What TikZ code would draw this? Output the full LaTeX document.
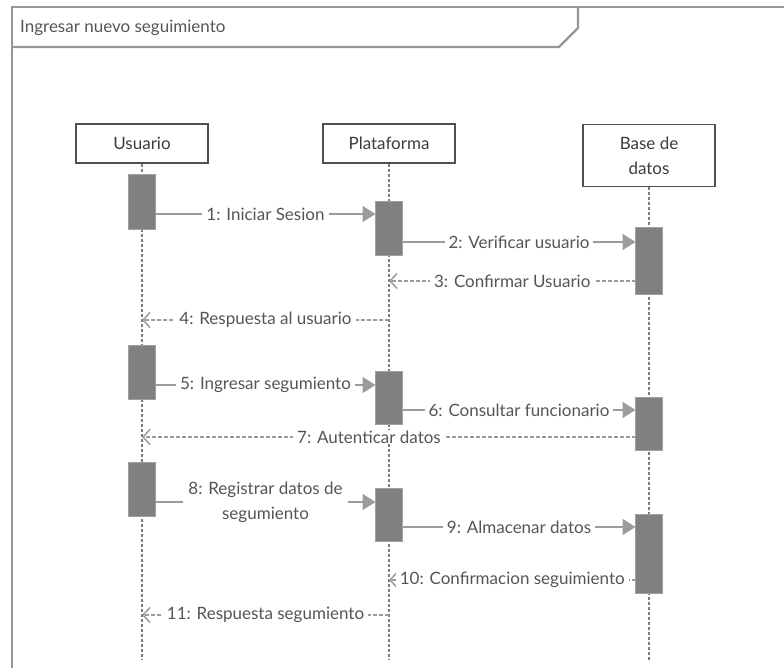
\documentclass[tikz,border=0pt]{standalone}
\usepackage{fontspec}
\setmainfont{Lato}
\usetikzlibrary{arrows.meta}
\definecolor{framegray}{RGB}{150,150,150}
\definecolor{linegray}{RGB}{155,155,155}
\definecolor{lifegray}{RGB}{125,125,125}
\definecolor{barfill}{RGB}{128,128,128}
\definecolor{baredge}{RGB}{160,160,160}
\definecolor{textgray}{RGB}{85,85,85}
\definecolor{headtext}{RGB}{60,60,60}
\definecolor{headedge}{RGB}{80,80,80}
\tikzset{
  frameline/.style={draw=framegray, line width=2.2pt},
  headbox/.style={draw=headedge, line width=1.6pt, fill=white, minimum width=132pt, inner sep=0pt, text=headtext, font=\fontsize{17}{25}\selectfont, align=center},
  lifeline/.style={draw=lifegray, line width=2.2pt, dash pattern=on 3pt off 2pt},
  actbar/.style={draw=baredge, line width=1pt, fill=barfill, minimum width=27pt, inner sep=0pt, outer sep=0pt},
  syncmsg/.style={draw=linegray, line width=1.8pt, -{Triangle[length=13pt,width=16pt]}},
  retmsg/.style={draw=linegray, line width=1.5pt, dash pattern=on 4pt off 2pt, -{Straight Barb[length=7pt,width=15pt,line width=1.5pt]}},
  lbl/.style={fill=white, inner xsep=4pt, inner ysep=1pt, text=textgray, font=\fontsize{17}{19}\selectfont}
}
\begin{document}
\begin{tikzpicture}[x=1pt,y=-1pt]
\useasboundingbox (0,0) rectangle (784,668);
% frame
\draw[frameline] (12,668) -- (12,7) -- (784,7);
\draw[frameline] (12,47) -- (559,47) -- (578,28) -- (578,7);
\node[anchor=west, text=textgray, font=\fontsize{17}{19}\selectfont, inner sep=0pt] (title) at (20,28) {Ingresar nuevo seguimiento};
% heads
\node[headbox, minimum height=39pt] (hu) at (142,143.5) {Usuario};
\node[headbox, minimum height=39pt] (hp) at (389,143.5) {Plataforma};
\node[headbox, minimum height=62pt] (hb) at (649,155.5) {Base de\\datos};
% lifeline ends
\coordinate (ue) at (142,660);
\coordinate (pe) at (389,660);
\coordinate (be) at (649,660);
\draw[lifeline] (hu.south) -- (ue);
\draw[lifeline] (hp.south) -- (pe);
\draw[lifeline] (hb.south) -- (be);
% activation bars
\node[actbar, minimum height=55pt] (u1) at (142,202.5) {};
\node[actbar, minimum height=54pt] (p1) at (389,229) {};
\node[actbar, minimum height=66pt] (b1) at (649,261) {};
\node[actbar, minimum height=54pt] (u2) at (142,372) {};
\node[actbar, minimum height=53pt] (p2) at (389,397.5) {};
\node[actbar, minimum height=53pt] (b2) at (649,423.5) {};
\node[actbar, minimum height=54pt] (u3) at (142,489) {};
\node[actbar, minimum height=53pt] (p3) at (389,514.5) {};
\node[actbar, minimum height=79pt] (b3) at (649,553.5) {};
% message rows
\coordinate (y1) at (0,214);
\coordinate (y2) at (0,242);
\coordinate (y3) at (0,281);
\coordinate (y4) at (0,320);
\coordinate (y5) at (0,385);
\coordinate (y6) at (0,410);
\coordinate (y7) at (0,437);
\coordinate (y8) at (0,502);
\coordinate (y9) at (0,527);
\coordinate (y10) at (0,580);
\coordinate (y11) at (0,615);
% messages
\draw[syncmsg] (u1.east |- y1) -- node[lbl] (m1) {1: Iniciar Sesion} (p1.west |- y1);
\draw[syncmsg] (p1.east |- y2) -- node[lbl] (m2) {2: Verificar usuario} (b1.west |- y2);
\draw[retmsg] (b1.west |- y3) -- node[lbl] (m3) {3: Confirmar Usuario} (hp |- y3);
\draw[retmsg] (hp |- y4) -- node[lbl] (m4) {4: Respuesta al usuario} (hu |- y4);
\draw[syncmsg] (u2.east |- y5) -- node[lbl] (m5) {5: Ingresar segumiento} (p2.west |- y5);
\draw[syncmsg] (p2.east |- y6) -- node[lbl] (m6) {6: Consultar funcionario} (b2.west |- y6);
\draw[retmsg] (b2.west |- y7) -- node[lbl, pos=0.54] (m7) {7: Autenticar datos} (hu |- y7);
\draw[syncmsg] (u3.east |- y8) -- node[lbl, align=center, inner xsep=5pt, font=\fontsize{17}{25}\selectfont] (m8) {8: Registrar datos de\\segumiento} (p3.west |- y8);
\draw[syncmsg] (p3.east |- y9) -- node[lbl] (m9) {9: Almacenar datos} (b3.west |- y9);
\draw[retmsg] (b3.west |- y10) -- node[lbl] (m10) {10: Confirmacion seguimiento} (hp |- y10);
\draw[retmsg] (hp |- y11) -- node[lbl] (m11) {11: Respuesta segumiento} (hu |- y11);
\end{tikzpicture}
\end{document}
